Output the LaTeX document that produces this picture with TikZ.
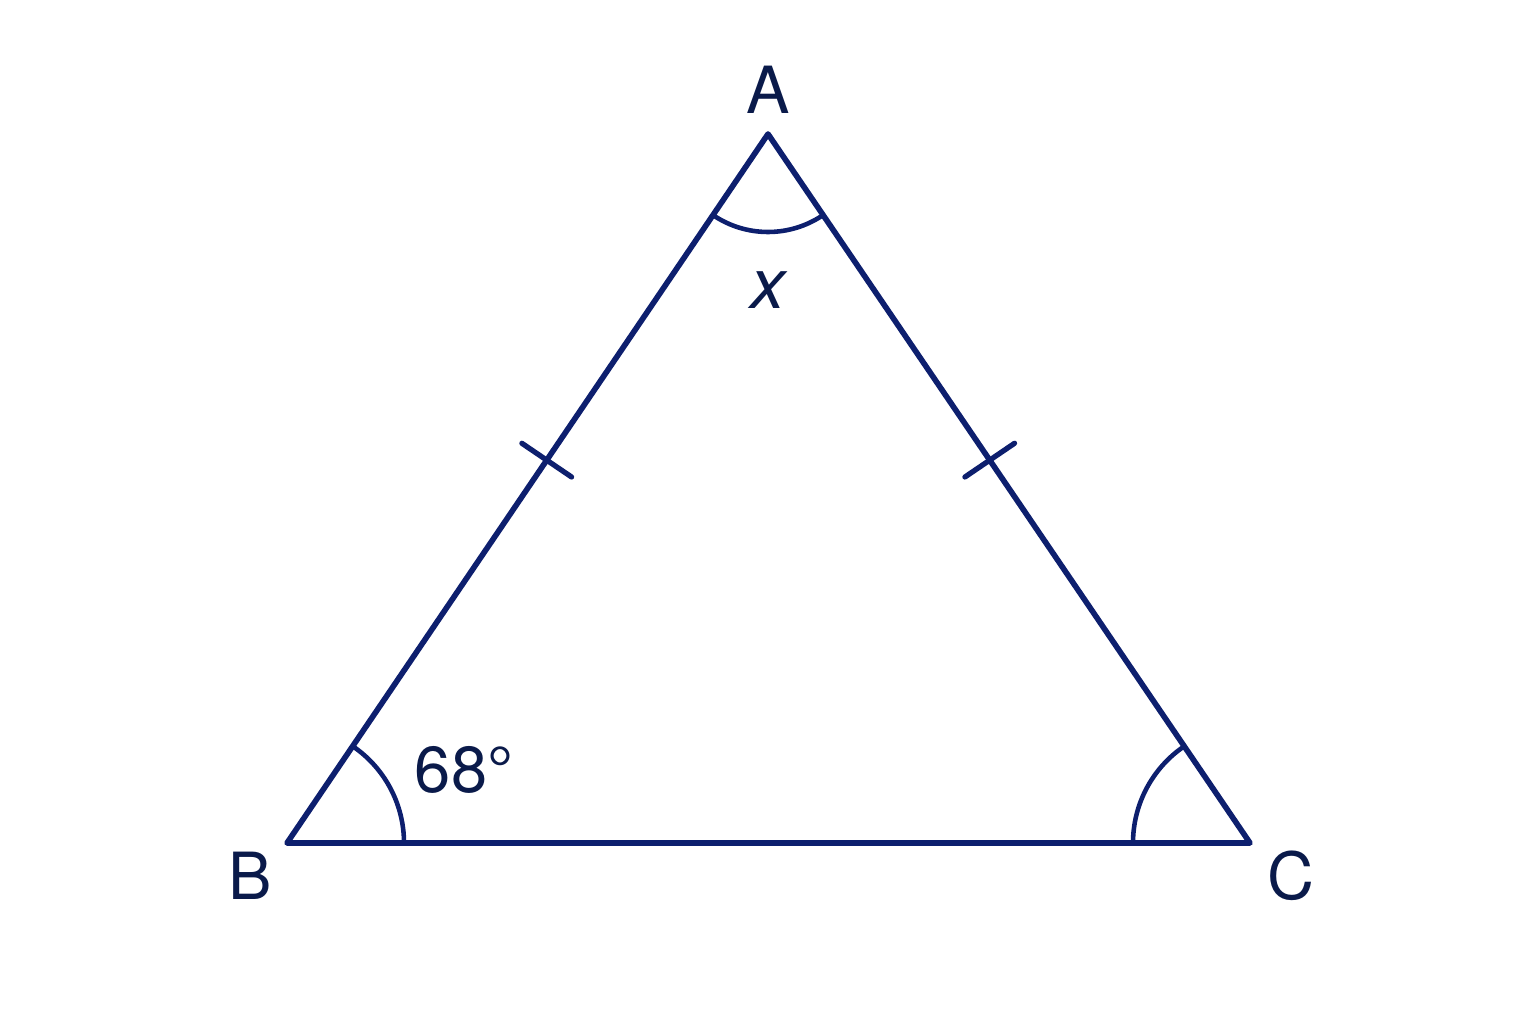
\documentclass[tikz,border=0pt]{standalone}
\usepackage{fontspec}
\setmainfont{TeX Gyre Heros}
\usetikzlibrary{angles,calc}
\definecolor{navy}{HTML}{0D1F6E}
\definecolor{ink}{HTML}{0A1A4A}
\begin{document}
\begin{tikzpicture}[
    side/.style={draw=navy, line width=1.6pt, line join=round, line cap=round},
    anglearc/.style={draw=navy, line width=1.3pt},
    tickmark/.style={draw=navy, line width=1.5pt, line cap=round},
    lbl/.style={text=ink, font=\fontsize{18.5}{20}\selectfont}
]
    \useasboundingbox (0,0) rectangle (15.36,10.24);
    % Vertices
    \coordinate (A) at (7.68,8.90);
    \coordinate (B) at (2.87,1.81);
    \coordinate (C) at (12.50,1.81);
    % Triangle
    \draw[side] (A) -- (B) -- (C) -- cycle;
    % Angle marks
    \pic[anglearc, angle radius=0.98cm] {angle = B--A--C};
    \pic[anglearc, angle radius=1.17cm] {angle = C--B--A};
    \pic[anglearc, angle radius=1.17cm] {angle = A--C--B};
    % Equal side ticks
    \coordinate (mAB) at ($(A)!0.46!(B)$);
    \coordinate (mAC) at ($(A)!0.46!(C)$);
    \draw[tickmark] ($(mAB)!0.3cm!90:(A)$) -- ($(mAB)!0.3cm!-90:(A)$);
    \draw[tickmark] ($(mAC)!0.3cm!90:(A)$) -- ($(mAC)!0.3cm!-90:(A)$);
    % Labels
    \node[lbl] (labA) at (7.68,9.34) {A};
    \node[lbl] (labB) at (2.50,1.48) {B};
    \node[lbl] (labC) at (12.91,1.48) {C};
    \node[lbl, font=\fontsize{20}{22}\selectfont\itshape] (labx) at (7.68,7.34) {x};
    \node[lbl] (lab68) at (4.64,2.54) {68°};
\end{tikzpicture}
\end{document}
